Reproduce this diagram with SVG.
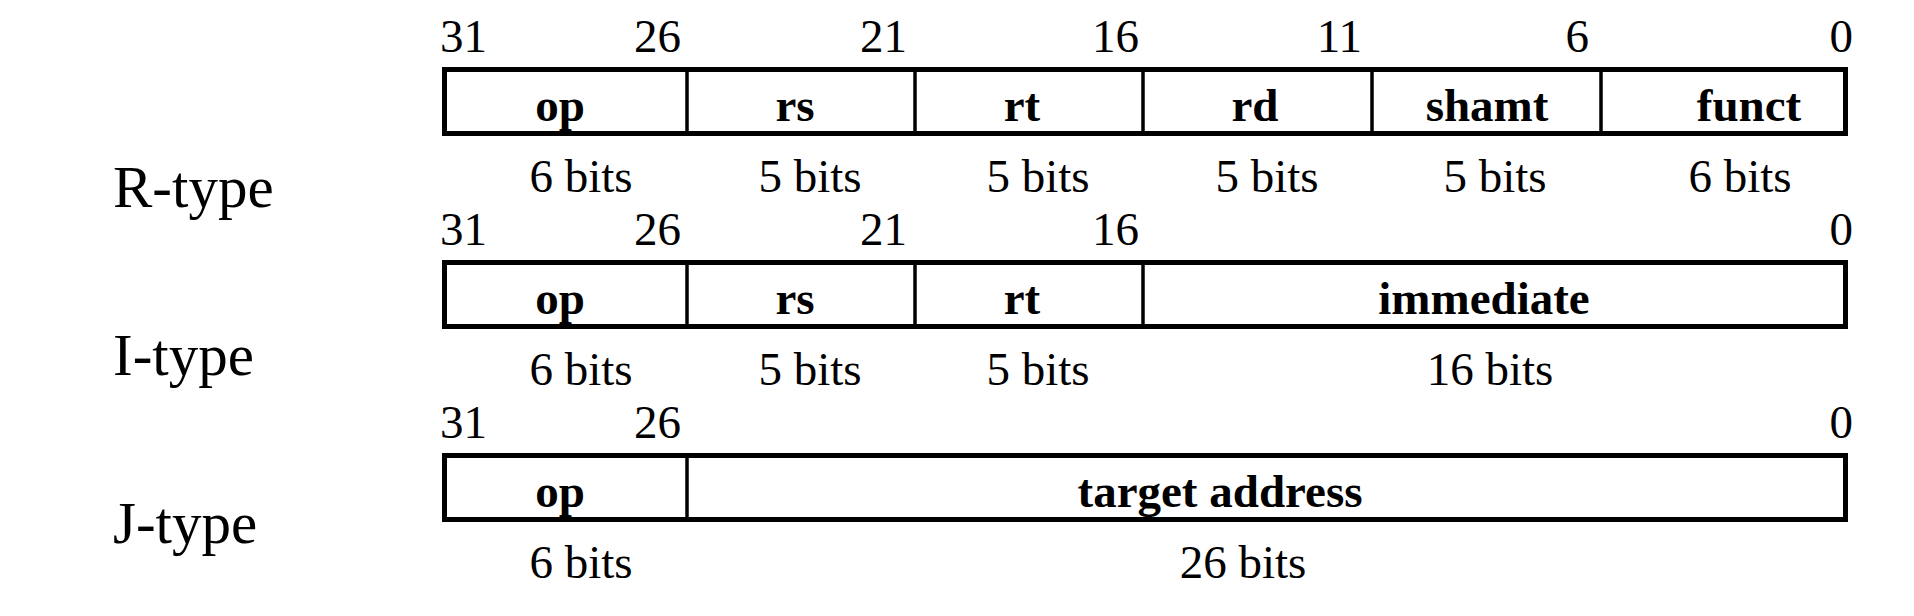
<svg xmlns="http://www.w3.org/2000/svg" width="1914" height="616" viewBox="0 0 1914 616">
<style>
text{font-family:"Liberation Serif","Times New Roman",serif;fill:#000}
.num{font-size:47px;text-anchor:end}
.n0{font-size:47px;text-anchor:start}
.fld{font-size:47px;font-weight:bold;text-anchor:middle}
.bits{font-size:47px;text-anchor:middle}
.type{font-size:59px}
.box{fill:#fff;stroke:#000;stroke-width:5}
.div{stroke:#000;stroke-width:3.5}
</style>
<rect width="1914" height="616" fill="#fff"/>
<g id="labels">
<text class="type" x="113" y="207">R-type</text>
<text class="type" x="113" y="375">I-type</text>
<text class="type" x="113" y="543">J-type</text>
</g>
<g id="r-type">
<text class="n0" x="440" y="52">31</text>
<text class="num" x="681" y="52">26</text>
<text class="num" x="907" y="52">21</text>
<text class="num" x="1139" y="52">16</text>
<text class="num" x="1362" y="52">11</text>
<text class="num" x="1589" y="52">6</text>
<text class="num" x="1853" y="52">0</text>
<rect class="box" x="444.5" y="69.5" width="1401" height="64"/>
<line class="div" x1="687" y1="69.5" x2="687" y2="133.5"/>
<line class="div" x1="915" y1="69.5" x2="915" y2="133.5"/>
<line class="div" x1="1143" y1="69.5" x2="1143" y2="133.5"/>
<line class="div" x1="1372" y1="69.5" x2="1372" y2="133.5"/>
<line class="div" x1="1601" y1="69.5" x2="1601" y2="133.5"/>
<text class="fld" x="560" y="121">op</text>
<text class="fld" x="795" y="121">rs</text>
<text class="fld" x="1022" y="121">rt</text>
<text class="fld" x="1255" y="121">rd</text>
<text class="fld" x="1487" y="121">shamt</text>
<text class="fld" x="1749" y="121">funct</text>
<text class="bits" x="581" y="192">6 bits</text>
<text class="bits" x="810" y="192">5 bits</text>
<text class="bits" x="1038" y="192">5 bits</text>
<text class="bits" x="1267" y="192">5 bits</text>
<text class="bits" x="1495" y="192">5 bits</text>
<text class="bits" x="1740" y="192">6 bits</text>
</g>
<g id="i-type">
<text class="n0" x="440" y="245">31</text>
<text class="num" x="681" y="245">26</text>
<text class="num" x="907" y="245">21</text>
<text class="num" x="1139" y="245">16</text>
<text class="num" x="1853" y="245">0</text>
<rect class="box" x="444.5" y="262.5" width="1401" height="64"/>
<line class="div" x1="687" y1="262.5" x2="687" y2="326.5"/>
<line class="div" x1="915" y1="262.5" x2="915" y2="326.5"/>
<line class="div" x1="1143" y1="262.5" x2="1143" y2="326.5"/>
<text class="fld" x="560" y="314">op</text>
<text class="fld" x="795" y="314">rs</text>
<text class="fld" x="1022" y="314">rt</text>
<text class="fld" x="1484" y="314">immediate</text>
<text class="bits" x="581" y="385">6 bits</text>
<text class="bits" x="810" y="385">5 bits</text>
<text class="bits" x="1038" y="385">5 bits</text>
<text class="bits" x="1490" y="385">16 bits</text>
</g>
<g id="j-type">
<text class="n0" x="440" y="438">31</text>
<text class="num" x="681" y="438">26</text>
<text class="num" x="1853" y="438">0</text>
<rect class="box" x="444.5" y="455.5" width="1401" height="64"/>
<line class="div" x1="687" y1="455.5" x2="687" y2="519.5"/>
<text class="fld" x="560" y="507">op</text>
<text class="fld" x="1220" y="507">target address</text>
<text class="bits" x="581" y="578">6 bits</text>
<text class="bits" x="1243" y="578">26 bits</text>
</g>
</svg>
